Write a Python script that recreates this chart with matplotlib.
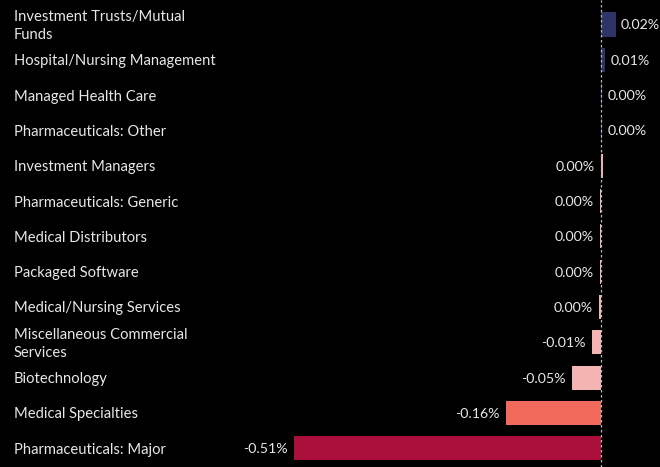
import matplotlib.pyplot as plt
from matplotlib.transforms import blended_transform_factory

# sector contributions (% change)
sectors = ['Investment Trusts/Mutual\nFunds', 'Hospital/Nursing Management',
           'Managed Health Care', 'Pharmaceuticals: Other', 'Investment Managers',
           'Pharmaceuticals: Generic', 'Medical Distributors', 'Packaged Software',
           'Medical/Nursing Services', 'Miscellaneous Commercial\nServices',
           'Biotechnology', 'Medical Specialties', 'Pharmaceuticals: Major']
values = [0.025, 0.007, 0.002, 0.002, 0.003, -0.002, -0.002, -0.002, -0.004,
          -0.015, -0.048, -0.158, -0.51]
labels = ['0.02%', '0.01%', '0.00%', '0.00%', '0.00%', '0.00%', '0.00%', '0.00%',
          '0.00%', '-0.01%', '-0.05%', '-0.16%', '-0.51%']
gaining = [True, True, True, True, False, False, False, False, False,
           False, False, False, False]
colors = ['#2e3566', '#2e3566', '#2e3566', '#2e3566', '#f4b4b1', '#f4b4b1',
          '#f4b4b1', '#f4b4b1', '#f4b4b1', '#f4b4b1', '#f4b4b1', '#f26a5c', '#a90f3a']

txt = '#e8e8e8'
plt.rcParams['font.family'] = ['Lato', 'DejaVu Sans']

fig = plt.figure(figsize=(6.6, 4.67), dpi=100, facecolor='black')
ax = fig.add_axes([0, 0, 1, 1], facecolor='black')

ypos = list(range(len(sectors)))
ax.barh(ypos, values, height=0.68, color=colors)
ax.axvline(0, color='#bbbbbb', lw=0.9, ls=(0, (2, 2)))

ax.set_xlim(-0.998, 0.098)
ax.set_ylim(12.535, -0.694)
ax.axis('off')

tr = blended_transform_factory(ax.transAxes, ax.transData)
for y, name in zip(ypos, sectors):
    ax.annotate(name, (14 / 660, y), xycoords=tr, xytext=(0, -1.5),
                textcoords='offset pixels', color=txt, fontsize=10.6,
                va='center', ha='left', linespacing=1.35)

for y, v, lab, up in zip(ypos, values, labels, gaining):
    if up:
        ax.annotate(lab, (max(v, 0), y), xytext=(5, -1), textcoords='offset pixels',
                    color=txt, fontsize=10.2, va='center', ha='left')
    else:
        ax.annotate(lab, (min(v, 0), y), xytext=(-6, -1), textcoords='offset pixels',
                    color=txt, fontsize=10.2, va='center', ha='right')

fig.savefig('out.png', dpi=100, facecolor='black')
